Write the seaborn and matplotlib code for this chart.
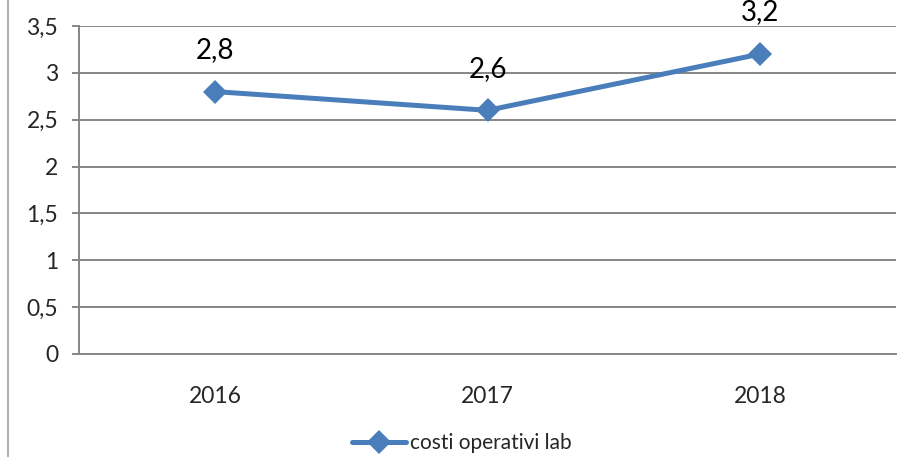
import matplotlib
matplotlib.use('Agg')
import matplotlib.pyplot as plt
import matplotlib.ticker as mticker
from matplotlib.lines import Line2D
import pandas as pd
import seaborn as sns

anni = ['2016', '2017', '2018']
costi = [2.8, 2.6, 3.2]
etichette = ['2,8', '2,6', '3,2']
serie = 'costi operativi lab'

sns.set_style('white')
plt.rcParams['font.family'] = ['Lato', 'DejaVu Sans']

grigio = '#868686'
blu = '#4A7EBB'

df = pd.DataFrame({'anno': anni, 'costo': costi})

fig = plt.figure(figsize=(9, 4.57), dpi=100)
ax = fig.add_axes([79 / 900, 1 - 354 / 457, 817 / 900, 328 / 457])

sns.lineplot(data=df, x='anno', y='costo', ax=ax, color=blu, linewidth=3.6,
             marker='D', markersize=12, markeredgewidth=0, label=serie, legend=False)

for i, (v, t) in enumerate(zip(costi, etichette)):
    ax.annotate(t, (i, v), xytext=(0, 30), textcoords='offset points',
                ha='center', va='center', fontsize=20, color='black', annotation_clip=False)

ax.set_ylim(0, 3.5)
ax.set_xlim(-0.5, 2.5)
ax.yaxis.set_major_locator(mticker.MultipleLocator(0.5))
ax.yaxis.set_major_formatter(mticker.FuncFormatter(lambda v, p: f'{v:g}'.replace('.', ',')))
ax.grid(axis='y', color=grigio, linewidth=1.4)
ax.set_axisbelow(True)

ax.xaxis.set_minor_locator(mticker.FixedLocator([-0.5, 0.5, 1.5, 2.5]))
ax.tick_params(axis='x', which='major', length=0, pad=23, labelsize=16.5)
ax.tick_params(axis='x', which='minor', length=6, width=1.4, color=grigio, direction='out')
ax.tick_params(axis='y', which='major', length=5, width=1.4, color=grigio, pad=10, labelsize=16.5,
               direction='out', left=True)
ax.set_xlabel('')
ax.set_ylabel('')

for s in ['top', 'right']:
    ax.spines[s].set_visible(False)
for s in ['left', 'bottom']:
    ax.spines[s].set_color(grigio)
    ax.spines[s].set_linewidth(1.4)

handle = Line2D([], [], color=blu, linewidth=3.6, marker='D', markersize=12, markeredgewidth=0)
fig.legend([handle], [serie], loc='center', bbox_to_anchor=(462 / 900, 1 - 443 / 457),
           frameon=False, fontsize=15, handlelength=2.6, handletextpad=0.2)

# bordo sinistro dell'area del grafico
fig.add_artist(Line2D([8 / 900, 8 / 900], [0, 1], color='#a0a0a0', linewidth=1.2))

fig.savefig('out.png', dpi=100)
